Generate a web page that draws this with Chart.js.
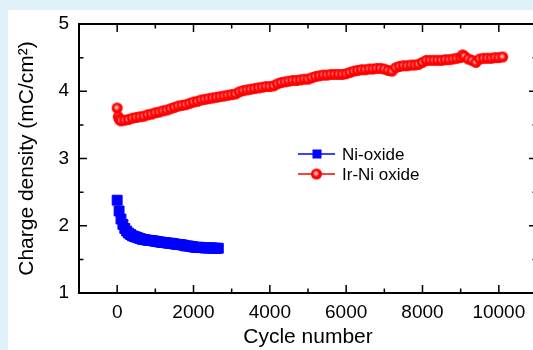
<!DOCTYPE html>
<html>
<head>
<meta charset="utf-8">
<script src="https://cdn.jsdelivr.net/npm/chart.js@4.4.1/dist/chart.umd.min.js"></script>
<style>
html, body { margin: 0; padding: 0; background: #e0f1fa; overflow: hidden; width: 533px; height: 350px; }
#wrap { position: absolute; left: 8px; top: 10px; width: 537px; height: 340px; background: #fff; }
</style>
</head>
<body>
<div id="wrap"><canvas id="chart" width="537" height="340"></canvas></div>
<script>
// Ni-oxide (blue squares)
const niCycles = [0, 50, 100, 150, 200, 250, 300, 350, 400, 450, 500, 550, 600, 650, 700, 750, 800, 850, 900, 950,
    1000, 1050, 1100, 1150, 1200, 1250, 1300, 1350, 1400, 1450, 1500, 1550, 1600, 1650, 1700, 1750, 1800, 1850, 1900, 1950,
    2000, 2050, 2100, 2150, 2200, 2250, 2300, 2350, 2400, 2450, 2500, 2550, 2600, 2650];
const niCharge = [2.38, 2.22, 2.10, 2.02, 1.96, 1.92, 1.89, 1.87, 1.85, 1.84, 1.83, 1.82, 1.81, 1.80, 1.795, 1.79, 1.785, 1.78, 1.78, 1.775,
    1.77, 1.765, 1.76, 1.755, 1.75, 1.75, 1.745, 1.74, 1.74, 1.735, 1.73, 1.725, 1.72, 1.72, 1.715, 1.71, 1.70, 1.70, 1.695, 1.69,
    1.685, 1.68, 1.68, 1.68, 1.675, 1.675, 1.67, 1.67, 1.67, 1.67, 1.67, 1.665, 1.665, 1.665];

// Ir-Ni oxide (red circles)
const irCycles = [0, 30, 60, 100, 200, 300, 400, 500, 600, 700, 800, 900,
    1000, 1100, 1200, 1300, 1400, 1500, 1600, 1700, 1800, 1900,
    2000, 2100, 2200, 2300, 2400, 2500, 2600, 2700, 2800, 2900,
    3000, 3100, 3200, 3300, 3400, 3500, 3600, 3700, 3800, 3900,
    4000, 4100, 4200, 4300, 4400, 4500, 4600, 4700, 4800, 4900,
    5000, 5100, 5200, 5300, 5400, 5500, 5600, 5700, 5800, 5900,
    6000, 6100, 6200, 6300, 6400, 6500, 6600, 6700, 6800, 6900,
    7000, 7100, 7200, 7300, 7400, 7500, 7600, 7700, 7800, 7900,
    8000, 8100, 8200, 8300, 8400, 8500, 8600, 8700, 8800, 8900,
    9000, 9050, 9100, 9200, 9300, 9400, 9500, 9600, 9700, 9800, 9900,
    10000, 10100];
const irCharge = [3.75, 3.62, 3.58, 3.56, 3.57, 3.58, 3.60, 3.61, 3.62, 3.63, 3.65, 3.66,
    3.68, 3.69, 3.71, 3.72, 3.74, 3.76, 3.78, 3.79, 3.80, 3.82,
    3.84, 3.85, 3.87, 3.88, 3.89, 3.90, 3.91, 3.92, 3.93, 3.94,
    3.95, 3.96, 3.99, 4.01, 4.02, 4.03, 4.04, 4.05, 4.06, 4.07,
    4.07, 4.08, 4.11, 4.13, 4.14, 4.15, 4.16, 4.16, 4.17, 4.18,
    4.18, 4.20, 4.22, 4.23, 4.24, 4.24, 4.25, 4.25, 4.25, 4.25,
    4.26, 4.28, 4.30, 4.31, 4.32, 4.32, 4.33, 4.33, 4.34, 4.34,
    4.33, 4.31, 4.30, 4.35, 4.37, 4.38, 4.38, 4.39, 4.39, 4.40,
    4.43, 4.46, 4.46, 4.46, 4.46, 4.46, 4.47, 4.47, 4.48, 4.49,
    4.50, 4.54, 4.52, 4.48, 4.46, 4.43, 4.48, 4.49, 4.49, 4.49, 4.50,
    4.50, 4.51];

// axis ticks
const xTicks = [0, 2000, 4000, 6000, 8000, 10000];
const xMinorTicks = [1000, 3000, 5000, 7000, 9000];
const yTicks = [1, 2, 3, 4, 5];
const yMinorTicks = [1.5, 2.5, 3.5, 4.5];

const seriesNames = ['Ni-oxide', 'Ir-Ni oxide'];

const FONT = "'Liberation Sans', Arial, sans-serif";

// little red "ball" marker like the original plot
function makeBall(r) {
    const size = Math.ceil(r * 2 + 2);
    const c = document.createElement('canvas');
    c.width = size;
    c.height = size;
    const g = c.getContext('2d');
    const m = size / 2;
    g.beginPath();
    g.arc(m, m, r, 0, Math.PI * 2);
    g.fillStyle = '#ff0000';
    g.fill();
    const grad = g.createRadialGradient(m - 0.5, m - 0.5, 0, m - 0.5, m - 0.5, r * 0.6);
    grad.addColorStop(0, 'rgba(255,255,255,0.95)');
    grad.addColorStop(1, 'rgba(255,255,255,0)');
    g.beginPath();
    g.arc(m, m, r, 0, Math.PI * 2);
    g.fillStyle = grad;
    g.fill();
    return c;
}
const redBall = makeBall(5.5);

function toPoints(xs, ys) {
    return xs.map((x, i) => ({ x: x, y: ys[i] }));
}

// frame + inward ticks on all four sides
const framePlugin = {
    id: 'framePlugin',
    afterDatasetsDraw(chart) {
        const ctx = chart.ctx;
        const a = chart.chartArea;
        const xs = chart.scales.x;
        const ys = chart.scales.y;
        ctx.save();
        ctx.strokeStyle = '#000';
        ctx.lineWidth = 1.5;
        ctx.beginPath();
        xTicks.forEach(v => {
            const px = xs.getPixelForValue(v);
            ctx.moveTo(px, a.bottom); ctx.lineTo(px, a.bottom - 8);
            ctx.moveTo(px, a.top); ctx.lineTo(px, a.top + 8);
        });
        xMinorTicks.forEach(v => {
            const px = xs.getPixelForValue(v);
            ctx.moveTo(px, a.bottom); ctx.lineTo(px, a.bottom - 4.5);
            ctx.moveTo(px, a.top); ctx.lineTo(px, a.top + 4.5);
        });
        yTicks.forEach(v => {
            const py = ys.getPixelForValue(v);
            ctx.moveTo(a.left, py); ctx.lineTo(a.left + 8, py);
            ctx.moveTo(a.right, py); ctx.lineTo(a.right - 8, py);
        });
        yMinorTicks.forEach(v => {
            const py = ys.getPixelForValue(v);
            ctx.moveTo(a.left, py); ctx.lineTo(a.left + 4.5, py);
            ctx.moveTo(a.right, py); ctx.lineTo(a.right - 4.5, py);
        });
        ctx.stroke();

        ctx.lineWidth = 2;
        ctx.beginPath();
        ctx.moveTo(a.left, a.top); ctx.lineTo(a.right, a.top); ctx.lineTo(a.right, a.bottom);
        ctx.stroke();
        ctx.restore();
    }
};

// legend inside the plot
const legendPlugin = {
    id: 'legendPlugin',
    afterDraw(chart) {
        const ctx = chart.ctx;
        const a = chart.chartArea;
        const x0 = a.left + 219;
        const rows = [a.top + 130, a.top + 150];
        ctx.save();
        ctx.font = '17px ' + FONT;
        ctx.textBaseline = 'middle';
        ctx.fillStyle = '#000';
        chart.data.datasets.forEach((ds, i) => {
            const y = rows[i];
            ctx.strokeStyle = ds.borderColor;
            ctx.lineWidth = 1.5;
            ctx.beginPath();
            ctx.moveTo(x0, y); ctx.lineTo(x0 + 37, y);
            ctx.stroke();
            if (i === 0) {
                ctx.fillStyle = ds.pointBackgroundColor;
                ctx.fillRect(x0 + 14.5, y - 4.5, 9, 9);
            } else {
                ctx.drawImage(redBall, x0 + 18.5 - redBall.width / 2, y - redBall.height / 2);
            }
            ctx.fillStyle = '#000';
            ctx.fillText(ds.label, x0 + 44, y + 1);
        });
        ctx.restore();
    }
};

const ctx = document.getElementById('chart').getContext('2d');
new Chart(ctx, {
    type: 'scatter',
    data: {
        datasets: [{
            label: seriesNames[0],
            data: toPoints(niCycles, niCharge),
            showLine: true,
            borderColor: '#0000ff',
            borderWidth: 1.5,
            pointStyle: 'rect',
            pointRadius: 7,
            pointBackgroundColor: '#0000ff',
            pointBorderColor: '#0000ff',
            pointBorderWidth: 1
        }, {
            label: seriesNames[1],
            data: toPoints(irCycles, irCharge),
            showLine: true,
            borderColor: '#ff0000',
            borderWidth: 1.5,
            pointStyle: redBall,
            pointRadius: 5.5,
            pointBackgroundColor: '#ff0000'
        }]
    },
    options: {
        responsive: false,
        animation: false,
        layout: { padding: { left: 0, top: 14, right: 5, bottom: 0 } },
        scales: {
            x: {
                type: 'linear',
                min: -1000,
                max: 11000,
                afterBuildTicks: s => { s.ticks = xTicks.map(v => ({ value: v })); },
                afterFit: s => { s.height = 57; s.paddingLeft = 0; s.paddingRight = 0; },
                grid: { display: false, drawTicks: false },
                border: { display: true, color: '#000', width: 2 },
                ticks: {
                    color: '#000',
                    font: { family: FONT, size: 19 },
                    padding: 8,
                    maxRotation: 0,
                    callback: v => v
                },
                title: {
                    display: true,
                    text: 'Cycle number',
                    color: '#000',
                    font: { family: FONT, size: 21 },
                    padding: { top: 5, bottom: 0 }
                }
            },
            y: {
                type: 'linear',
                min: 1,
                max: 5,
                afterBuildTicks: s => { s.ticks = yTicks.map(v => ({ value: v })); },
                afterFit: s => { s.width = 71; s.paddingTop = 0; s.paddingBottom = 0; },
                grid: { display: false, drawTicks: false },
                border: { display: true, color: '#000', width: 2 },
                ticks: {
                    color: '#000',
                    font: { family: FONT, size: 19 },
                    padding: 10
                },
                title: {
                    display: true,
                    text: 'Charge density (mC/cm\u00B2)',
                    color: '#000',
                    font: { family: FONT, size: 21 },
                    padding: { top: 7, bottom: 0 }
                }
            }
        },
        plugins: {
            legend: { display: false },
            tooltip: { enabled: false }
        }
    },
    plugins: [framePlugin, legendPlugin]
});
</script>
</body>
</html>
